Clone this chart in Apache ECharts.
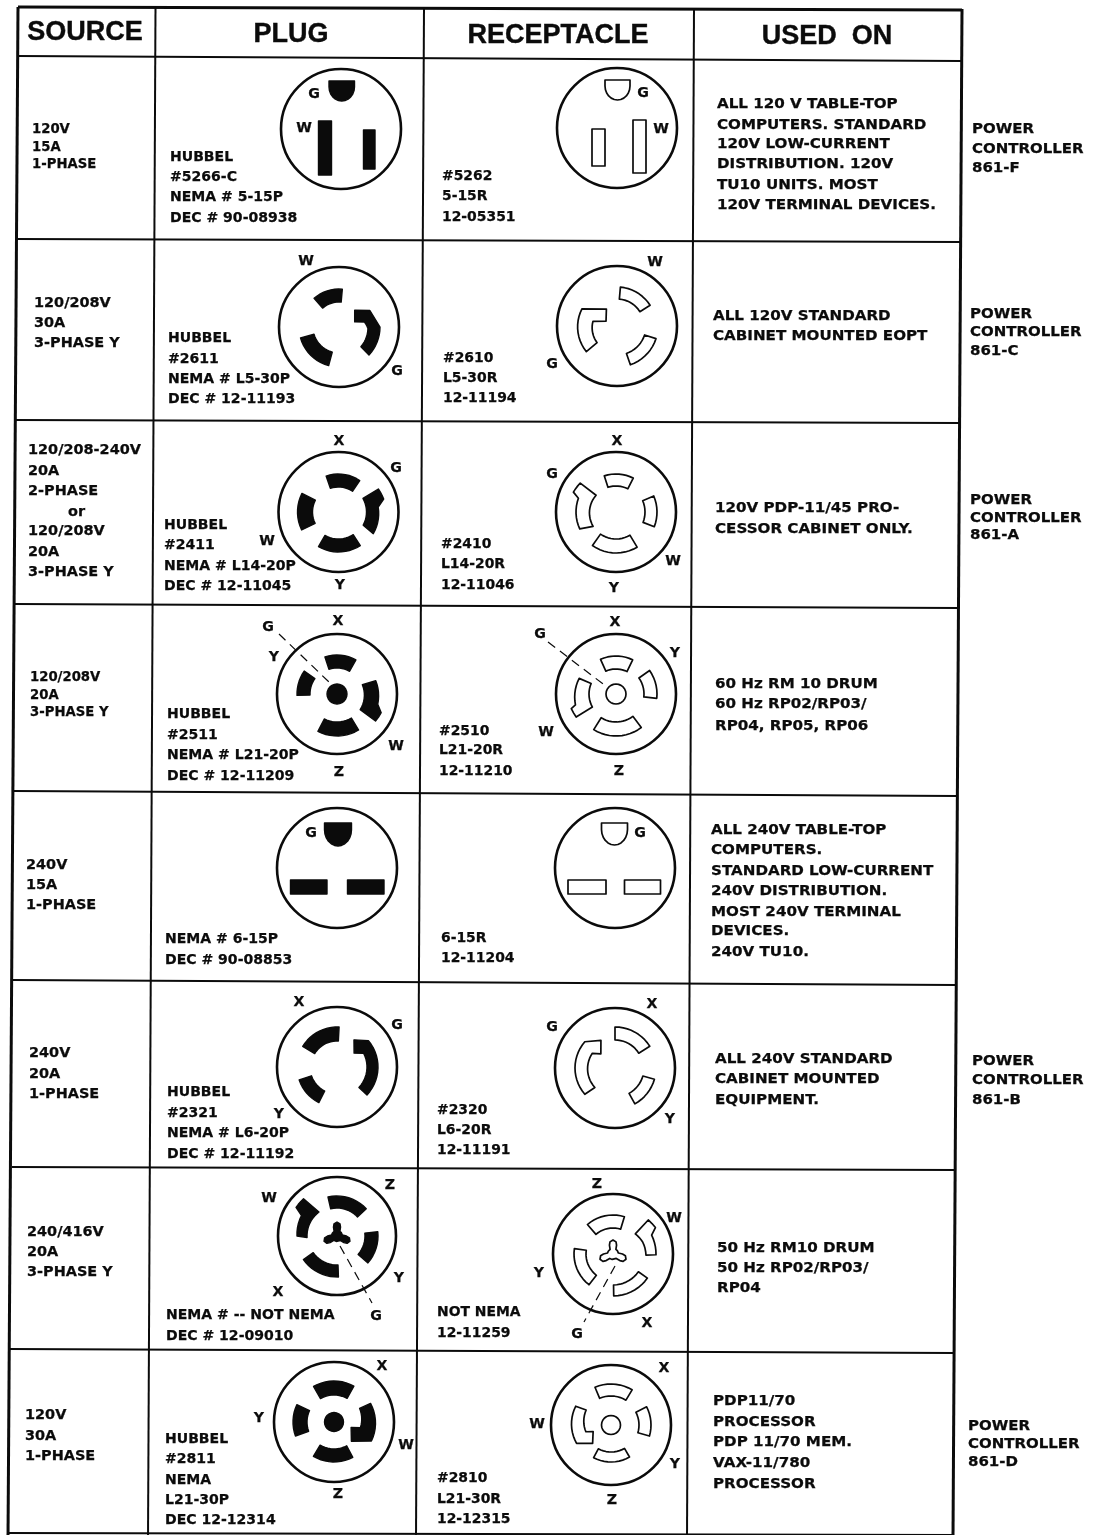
<!DOCTYPE html>
<html>
<head>
<meta charset="utf-8">
<title>Power plugs and receptacles</title>
<style>html,body{margin:0;padding:0;background:#fff}#chart{width:1097px;height:1535px}</style>
<script src="https://cdn.jsdelivr.net/npm/echarts@6/dist/echarts.min.js"></script>
</head>
<body>
<div id="chart"></div>
<script>
// Table rules: x1, y1, x2, y2, weight class (1 = frame)
const tableRules = [
  [18,7,962,10,1],[17,56,961,61,0],[17,239,960,242,0],[16,420,959,423,0],[15,604,958,608,0],
  [14,791,957,796,0],[13,980,956,985,0],[12,1167,955,1170,0],[10,1349,954,1353,0],[9,1533,953,1535,0],
  [18,7,8,1535,1],[155.5,8,148,1535,0],[424,8,416,1535,0],[694,8,687,1535,0],[962,9,953,1535,1]
];
const headerLabels = [[85,33,'SOURCE'],[291,35,'PLUG'],[558,36,'RECEPTACLE'],[827,37,'USED  ON']];

const sourceLinesNarrow = [
  [32,129,'120V'],[32,147,'15A'],[32,164,'1-PHASE'],
  [30,677,'120/208V'],[30,695,'20A'],[30,712,'3-PHASE Y']
];
const sourceLines = [
  [34,303,'120/208V'],[34,323,'30A'],[34,343,'3-PHASE Y'],
  [28,450,'120/208-240V'],[28,471,'20A'],[28,491,'2-PHASE'],[68,512,'or'],[28,531,'120/208V'],[28,552,'20A'],[28,572,'3-PHASE Y'],
  [26,865,'240V'],[26,885,'15A'],[26,905,'1-PHASE'],
  [29,1053,'240V'],[29,1074,'20A'],[29,1094,'1-PHASE'],
  [27,1232,'240/416V'],[27,1252,'20A'],[27,1272,'3-PHASE Y'],
  [25,1415,'120V'],[25,1436,'30A'],[25,1456,'1-PHASE']
];
const plugLines = [
  [170,157,'HUBBEL'],[170,177,'#5266-C'],[170,197,'NEMA # 5-15P'],[170,218,'DEC # 90-08938'],
  [168,338,'HUBBEL'],[168,359,'#2611'],[168,379,'NEMA # L5-30P'],[168,399,'DEC # 12-11193'],
  [164,525,'HUBBEL'],[164,545,'#2411'],[164,566,'NEMA # L14-20P'],[164,586,'DEC # 12-11045'],
  [167,714,'HUBBEL'],[167,735,'#2511'],[167,755,'NEMA # L21-20P'],[167,776,'DEC # 12-11209'],
  [165,939,'NEMA # 6-15P'],[165,960,'DEC # 90-08853'],
  [167,1092,'HUBBEL'],[167,1113,'#2321'],[167,1133,'NEMA # L6-20P'],[167,1154,'DEC # 12-11192'],
  [166,1315,'NEMA # -- NOT NEMA'],[166,1336,'DEC # 12-09010'],
  [165,1439,'HUBBEL'],[165,1459,'#2811'],[165,1480,'NEMA'],[165,1500,'L21-30P'],[165,1520,'DEC 12-12314']
];
const receptacleLines = [
  [442,176,'#5262'],[442,196,'5-15R'],[442,217,'12-05351'],
  [443,358,'#2610'],[443,378,'L5-30R'],[443,398,'12-11194'],
  [441,544,'#2410'],[441,564,'L14-20R'],[441,585,'12-11046'],
  [439,731,'#2510'],[439,750,'L21-20R'],[439,771,'12-11210'],
  [441,938,'6-15R'],[441,958,'12-11204'],
  [437,1110,'#2320'],[437,1130,'L6-20R'],[437,1150,'12-11191'],
  [437,1312,'NOT NEMA'],[437,1333,'12-11259'],
  [437,1478,'#2810'],[437,1499,'L21-30R'],[437,1519,'12-12315']
];
const usedOnLines = [
  [717,104,'ALL 120 V TABLE-TOP'],[717,125,'COMPUTERS. STANDARD'],[717,144,'120V LOW-CURRENT'],[717,164,'DISTRIBUTION. 120V'],[717,185,'TU10 UNITS. MOST'],[717,205,'120V TERMINAL DEVICES.'],
  [713,316,'ALL 120V STANDARD'],[713,336,'CABINET MOUNTED EOPT'],
  [715,508,'120V PDP-11/45 PRO-'],[715,529,'CESSOR CABINET ONLY.'],
  [715,684,'60 Hz RM 10 DRUM'],[715,704,'60 Hz RP02/RP03/'],[715,726,'RP04, RP05, RP06'],
  [711,830,'ALL 240V TABLE-TOP'],[711,850,'COMPUTERS.'],[711,871,'STANDARD LOW-CURRENT'],[711,891,'240V DISTRIBUTION.'],[711,912,'MOST 240V TERMINAL'],[711,931,'DEVICES.'],[711,952,'240V TU10.'],
  [715,1059,'ALL 240V STANDARD'],[715,1079,'CABINET MOUNTED'],[715,1100,'EQUIPMENT.'],
  [717,1248,'50 Hz RM10 DRUM'],[717,1268,'50 Hz RP02/RP03/'],[717,1288,'RP04'],
  [713,1401,'PDP11/70'],[713,1422,'PROCESSOR'],[713,1442,'PDP 11/70 MEM.'],[713,1463,'VAX-11/780'],[713,1484,'PROCESSOR']
];
const controllerLines = [
  [972,129,'POWER'],[972,149,'CONTROLLER'],[972,168,'861-F'],
  [970,314,'POWER'],[970,332,'CONTROLLER'],[970,351,'861-C'],
  [970,500,'POWER'],[970,518,'CONTROLLER'],[970,535,'861-A'],
  [972,1061,'POWER'],[972,1080,'CONTROLLER'],[972,1100,'861-B'],
  [968,1426,'POWER'],[968,1444,'CONTROLLER'],[968,1462,'861-D']
];
const terminalLetters = [
  [314,94,'G'],[304,128,'W'],[643,93,'G'],[661,129,'W'],
  [306,261,'W'],[397,371,'G'],[655,262,'W'],[552,364,'G'],
  [339,441,'X'],[396,468,'G'],[267,541,'W'],[340,585,'Y'],[617,441,'X'],[552,474,'G'],[673,561,'W'],[614,588,'Y'],
  [268,627,'G'],[338,621,'X'],[274,657,'Y'],[396,746,'W'],[339,772,'Z'],[540,634,'G'],[615,622,'X'],[675,653,'Y'],[546,732,'W'],[619,771,'Z'],
  [311,833,'G'],[640,833,'G'],
  [299,1002,'X'],[397,1025,'G'],[279,1114,'Y'],[652,1004,'X'],[552,1027,'G'],[670,1119,'Y'],
  [269,1198,'W'],[390,1185,'Z'],[278,1292,'X'],[399,1278,'Y'],[376,1316,'G'],[597,1184,'Z'],[674,1218,'W'],[539,1273,'Y'],[647,1323,'X'],[577,1334,'G'],
  [382,1366,'X'],[259,1418,'Y'],[406,1445,'W'],[338,1494,'Z'],[664,1368,'X'],[537,1424,'W'],[675,1464,'Y'],[612,1500,'Z']
];
const groundLeaders = [[279,634,330,683],[548,642,607,687],[340,1246,372,1303],[615,1266,584,1322]];

// Outlet faces: centre x, centre y, radius, solid contacts (1 = plug, 0 = receptacle)
const outletFaces = [
  [341,129,60,1],[617,128,60,0],
  [339,327,60,1],[617,326,60,0],
  [338.5,512,60,1],[616,512,60,0],
  [337,694,60,1],[616,694,60,0],
  [337,868,60,1],[615,868,60,0],
  [337,1067,60,1],[615,1068,60,0],
  [337,1236,59,1],[613,1254,60,0],
  [334,1422,60,1],[611,1425,60,0]
];
// Contacts per face. arc: from angle, to angle, inner radius, outer radius (degrees clockwise from 12 o'clock).
// bend: list of [angle, radius] corners. box / dome: left, top, right, bottom offsets. hub: radius. tri: three-lobed hub.
const plug515 = [['dome',-12,-48,13.5,-28],['box',-22.5,-8,-9.5,46],['box',22.5,1,34,40]];
const recp515 = [['dome',-12,-48,13,-28],['box',-25,1,-12,38],['box',16,-8,29,45]];
const plugL530 = [['arc',-41,5,25,38],['arc',195,254,26,40],['bend',[133,41],[90,41],[62,35],[43,23],[72,16.5],[79,26],[93,29],[132,29.5]]];
const recpL530 = [['arc',5,58,27,39],['arc',108,161,29,41],['bend',[230,40],[296,39],[328,20],[294,12],[281,24.5],[230,26]]];
const plugL1420 = [['arc',-19,34,25,38],['arc',244,297,26,41],['arc',147,210,27,40],['bend',[61,28],[60,46],[74,47],[83,40],[122,41],[118,28]]];
const recpL1420 = [['arc',-18,27,26,38],['arc',67,111,29,41],['arc',149,215,27,41],['bend',[295,47],[309,46],[310,26],[238,27],[245,40],[290,40]]];
const plugL2120 = [['arc',-18,29,26,39],['arc',268,305,27,40],['arc',149,207,28,42],['bend',[70,27],[71,41],[104,42],[113,48],[125,47],[124,28]],['hub',10]];
const recpL2120 = [['arc',-24,26,25,38],['arc',55,96,28,41],['arc',143,212,28,42],['bend',[293,27],[293,40],[255,42],[252,47],[240,46],[241,27]],['hub',10]];
const plug615 = [['dome',-12.5,-45,14.5,-22],['box',-46.5,12,-10,26],['box',10.5,12,47,26]];
const recp615 = [['dome',-13.5,-45,12.5,-23],['box',-47,12,-9,26],['box',9.5,12,45.5,26]];
const plugL620 = [['arc',-59,3,26,40],['arc',207,251,27,40],['bend',[133,41],[50,41],[32,32],[51,22],[63,30],[133,30]]];
const recpL620 = [['arc',0,58,28,41],['arc',106,151,29,41],['bend',[229,40],[311,40],[333,31],[315,20],[303,27],[226,28]]];
const plug416 = [['arc',-13,47,28,40],['arc',84,131,28,41],['arc',178,235,29,41],['bend',[305,50],[318,50],[323,30],[267,30],[270,40],[300,41]],['tri']];
const recp416 = [['arc',-41,17,26,39],['arc',125,179,31,42],['arc',218,278,27,39],['bend',[46,49],[58,50],[64,43],[91,43],[92,33],[68,32],[48,30]],['tri']];
const plugL2130 = [['arc',-30,29,27,41],['arc',250,295,27,41],['arc',152,211,27,40],['bend',[62,29],[63,41],[117,42],[138,26],[108,18],[102,27]],['hub',9.5]];
const recpL2130 = [['arc',-23,31,29,41],['arc',63,106,28,40],['arc',150,208,27,37],['bend',[298,40],[301,29],[255,26],[250,19],[225,26],[242,39]],['hub',9.5]];
const faceContacts = [plug515,recp515,plugL530,recpL530,plugL1420,recpL1420,plugL2120,recpL2120,plug615,recp615,plugL620,recpL620,plug416,recp416,plugL2130,recpL2130];
const triLobes = [0,112,248];

const INK = '#0b0b0b';
const SMALL = 'bold 13.5px "DejaVu Sans"';
const HEAD = 'bold 27px "Liberation Sans"';
const chart = echarts.init(document.getElementById('chart'), null, {renderer:'canvas'});

function polar(a, r) { const t = a * Math.PI / 180; return [r * Math.sin(t), -r * Math.cos(t)]; }
function outline(c) {
  const k = c[0];
  if (k === 'box') return [[c[1],c[2]],[c[3],c[2]],[c[3],c[4]],[c[1],c[4]]];
  if (k === 'dome') {
    const pts = [[c[1],c[2]],[c[3],c[2]]], mx = (c[1]+c[3])/2, rx = (c[3]-c[1])/2, sy = c[2]+(c[4]-c[2])*0.3, ry = c[4]-sy;
    for (let t = 0; t <= 180; t += 15) pts.push([mx+rx*Math.cos(t*Math.PI/180), sy+ry*Math.sin(t*Math.PI/180)]);
    return pts;
  }
  if (k === 'hub') { const pts = []; for (let t = 0; t < 360; t += 15) pts.push(polar(t, c[1])); return pts; }
  let v;
  if (k === 'arc') v = [[c[1],c[4]],[c[2],c[4]],[c[2],c[3]],[c[1],c[3]]];
  else if (k === 'tri') {
    v = [];
    triLobes.forEach(l => v.push([l-60,5.5],[l-32,5.5],[l-22,9.5],[l-14,12.5],[l,14],[l+14,12.5],[l+22,9.5],[l+32,5.5]));
  }
  else v = c.slice(1);
  const pts = [];
  v.forEach((p, i) => {
    const q = v[(i+1) % v.length], span = q[0]-p[0];
    // equal radii follow the ring; corners with different radii are straight edges
    const n = (k === 'tri' || Math.abs(q[1]-p[1]) > 3) ? 1 : Math.max(1, Math.ceil(Math.abs(span)/6));
    for (let j = 0; j < n; j++) pts.push(polar(p[0]+span*j/n, p[1]+(q[1]-p[1])*j/n));
  });
  return pts;
}
const contactRows = [];
faceContacts.forEach((list, f) => list.forEach(c => contactRows.push({face:f, pts:outline(c)})));

function textSeries(rows, font, widthScale, align, weight) {
  return {
    type:'custom', coordinateSystem:'cartesian2d', silent:true, clip:false,
    data: rows.map(r => [r[0], r[1], r[2]]),
    encode:{x:0,y:1},
    renderItem(p, api) {
      const at = api.coord([api.value(0), api.value(1)]);
      return {type:'text', x:at[0], y:at[1], scaleX:widthScale,
        style:{x:0, y:0, text:rows[p.dataIndex][2], font, fill:INK, stroke:INK, lineWidth:weight, textAlign:align, textVerticalAlign:'middle'}};
    }
  };
}
function lineSeries(rows, dash) {
  return {
    type:'custom', coordinateSystem:'cartesian2d', silent:true, clip:false,
    data: rows.map(r => r.slice()),
    encode:{x:[0,2],y:[1,3]},
    renderItem(p, api) {
      const a = api.coord([api.value(0), api.value(1)]), b = api.coord([api.value(2), api.value(3)]);
      const w = dash ? 1.2 : (rows[p.dataIndex][4] ? 3 : 2);
      return {type:'line', shape:{x1:a[0],y1:a[1],x2:b[0],y2:b[1]}, style:{stroke:INK, lineWidth:w, lineDash:dash?[9,6]:null}};
    }
  };
}
const option = {
  animation:false,
  backgroundColor:'#ffffff',
  grid:{left:0,right:0,top:0,bottom:0},
  xAxis:{type:'value',min:0,max:1097,show:false},
  yAxis:{type:'value',min:0,max:1535,inverse:true,show:false},
  tooltip:{show:false},
  series:[
    lineSeries(tableRules,false),
    {
      type:'custom', coordinateSystem:'cartesian2d', silent:true, clip:false,
      data: outletFaces.map(f => f.slice()),
      encode:{x:0,y:1},
      renderItem(p, api) {
        const c = api.coord([api.value(0), api.value(1)]);
        const edge = api.coord([api.value(0)+api.value(2), api.value(1)]);
        return {type:'circle', shape:{cx:c[0],cy:c[1],r:edge[0]-c[0]}, style:{fill:'#fff',stroke:INK,lineWidth:2.6}};
      }
    },
    {
      type:'custom', coordinateSystem:'cartesian2d', silent:true, clip:false,
      data: contactRows.map((r,i) => [outletFaces[r.face][0], outletFaces[r.face][1], i]),
      encode:{x:0,y:1},
      renderItem(p, api) {
        const row = contactRows[p.dataIndex], cx = api.value(0), cy = api.value(1);
        const solid = outletFaces[row.face][3] === 1;
        const points = row.pts.map(q => api.coord([cx+q[0], cy+q[1]]));
        return {type:'polygon', shape:{points}, style:{fill:solid?INK:'#fff', stroke:INK, lineWidth:solid?1.4:1.7, lineJoin:'round'}};
      }
    },
    lineSeries(groundLeaders,true),
    textSeries(headerLabels,HEAD,1,'center',0.4),
    textSeries(sourceLinesNarrow,SMALL,0.98,'left',0.25),
    textSeries(sourceLines,SMALL,1.07,'left',0.25),
    textSeries(plugLines,SMALL,1.04,'left',0.25),
    textSeries(receptacleLines,SMALL,1.03,'left',0.25),
    textSeries(usedOnLines,SMALL,1.12,'left',0.25),
    textSeries(controllerLines,SMALL,1.11,'left',0.25),
    textSeries(terminalLetters,'bold 13.5px "DejaVu Sans"',1.05,'center',0.25)
  ]
};
chart.setOption(option);
</script>
</body>
</html>
